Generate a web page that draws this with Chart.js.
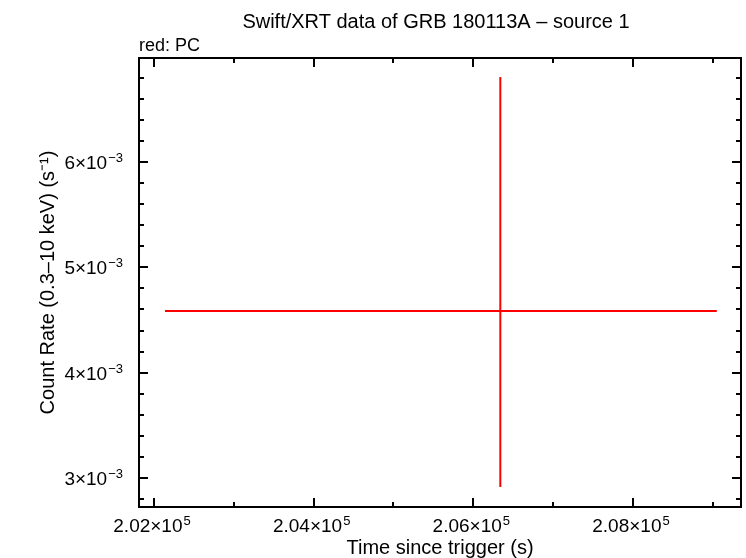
<!DOCTYPE html>
<html>
<head>
<meta charset="utf-8">
<script src="https://cdn.jsdelivr.net/npm/chart.js@4.4.1/dist/chart.umd.min.js"></script>
<style>
  html, body { margin: 0; padding: 0; background: #ffffff; }
  #wrap { width: 746px; height: 558px; }
  canvas { display: block; }
</style>
</head>
<body>
<div id="wrap"><canvas id="c" width="746" height="558"></canvas></div>
<script>
// ---- data ----
const timeValues   = [206338];
const timeErrLow   = [202137];
const timeErrHigh  = [209050];
const rateValues   = [0.004586];
const rateErrLow   = [0.002915];
const rateErrHigh  = [0.006807];

const xRange = [201812, 209353];
const yRange = [0.0027247, 0.006987];

const xMajorTicks = [202000, 204000, 206000, 208000];
const xMinorTicks = [203000, 205000, 207000, 209000];
const xTickMantissa = ['2.02', '2.04', '2.06', '2.08'];
const xTickExponent = ['5', '5', '5', '5'];

const yMajorTicks = [0.003, 0.004, 0.005, 0.006];
const yMinorTicks = [0.0028, 0.0032, 0.0034, 0.0036, 0.0038, 0.0042, 0.0044, 0.0046, 0.0048,
                     0.0052, 0.0054, 0.0056, 0.0058, 0.0062, 0.0064, 0.0066, 0.0068];
const yTickMantissa = ['3', '4', '5', '6'];
const yTickExponent = ['\u22123', '\u22123', '\u22123', '\u22123'];

const titleText = 'Swift/XRT data of GRB 180113A \u2013 source 1';
const subtitleText = 'red: PC';
const xTitle = 'Time since trigger (s)';
const yTitle = 'Count Rate (0.3\u201310 keV) (s\u207B\u00B9)';

// ---- build datasets ----
const datasets = [];
timeValues.forEach((t, i) => {
  datasets.push({
    data: [{x: timeErrLow[i], y: rateValues[i]}, {x: timeErrHigh[i], y: rateValues[i]}],
    showLine: true, borderColor: '#ff0000', borderWidth: 2, pointRadius: 0, fill: false
  });
  datasets.push({
    data: [{x: t, y: rateErrLow[i]}, {x: t, y: rateErrHigh[i]}],
    showLine: true, borderColor: '#ff0000', borderWidth: 2, pointRadius: 0, fill: false
  });
});

const FONT = '"Liberation Sans", Arial, Helvetica, sans-serif';

function drawSci(ctx, mant, exp, x, baseline, align) {
  ctx.font = '19px ' + FONT;
  const main = mant + '\u00D710';
  const wMain = ctx.measureText(main).width;
  ctx.font = '13px ' + FONT;
  const wExp = ctx.measureText(exp).width;
  const total = wMain + wExp + 1;
  let start = x;
  if (align === 'center') start = x - total / 2;
  else if (align === 'right') start = x - total;
  ctx.textAlign = 'left';
  ctx.textBaseline = 'alphabetic';
  ctx.font = '19px ' + FONT;
  ctx.fillText(main, start, baseline);
  ctx.font = '13px ' + FONT;
  ctx.fillText(exp, start + wMain + 1, baseline - 7);
}

const framePlugin = {
  id: 'frame',
  afterDraw(chart) {
    const ctx = chart.ctx;
    const a = chart.chartArea;
    const xs = chart.scales.x, ys = chart.scales.y;
    ctx.save();
    ctx.strokeStyle = '#000000';
    ctx.fillStyle = '#000000';
    ctx.lineWidth = 2;
    ctx.strokeRect(a.left, a.top, a.right - a.left, a.bottom - a.top);

    ctx.beginPath();
    const xt = (v, len) => {
      const px = Math.round(xs.getPixelForValue(v));
      ctx.moveTo(px, a.bottom); ctx.lineTo(px, a.bottom - len);
      ctx.moveTo(px, a.top); ctx.lineTo(px, a.top + len);
    };
    const yt = (v, len) => {
      const py = Math.round(ys.getPixelForValue(v));
      ctx.moveTo(a.left, py); ctx.lineTo(a.left + len, py);
      ctx.moveTo(a.right, py); ctx.lineTo(a.right - len, py);
    };
    xMajorTicks.forEach(v => xt(v, 9));
    xMinorTicks.forEach(v => xt(v, 5));
    yMajorTicks.forEach(v => yt(v, 9));
    yMinorTicks.forEach(v => yt(v, 5));
    ctx.stroke();

    xMajorTicks.forEach((v, i) => {
      drawSci(ctx, xTickMantissa[i], xTickExponent[i], xs.getPixelForValue(v) - 2, 532, 'center');
    });
    yMajorTicks.forEach((v, i) => {
      drawSci(ctx, yTickMantissa[i], yTickExponent[i], 123, ys.getPixelForValue(v) + 7, 'right');
    });

    const cx = (a.left + a.right) / 2;
    const cy = (a.top + a.bottom) / 2;
    ctx.font = '20px ' + FONT;
    ctx.textAlign = 'center';
    ctx.textBaseline = 'alphabetic';
    ctx.fillText(titleText, cx - 4, 28);
    ctx.fillText(xTitle, cx, 554);
    ctx.font = '18px ' + FONT;
    ctx.textAlign = 'left';
    ctx.fillText(subtitleText, a.left, 51);

    ctx.font = '20px ' + FONT;
    ctx.translate(54, cy);
    ctx.rotate(-Math.PI / 2);
    ctx.textAlign = 'center';
    ctx.fillText(yTitle, 0, 0);
    ctx.restore();
  }
};

new Chart(document.getElementById('c'), {
  type: 'scatter',
  data: { datasets },
  options: {
    responsive: false,
    animation: false,
    devicePixelRatio: 1,
    layout: { padding: { left: 139, right: 5, top: 58, bottom: 51 } },
    plugins: { legend: { display: false }, tooltip: { enabled: false }, title: { display: false } },
    scales: {
      x: { type: 'linear', min: xRange[0], max: xRange[1], display: false },
      y: { type: 'linear', min: yRange[0], max: yRange[1], display: false }
    }
  },
  plugins: [framePlugin]
});
</script>
</body>
</html>
